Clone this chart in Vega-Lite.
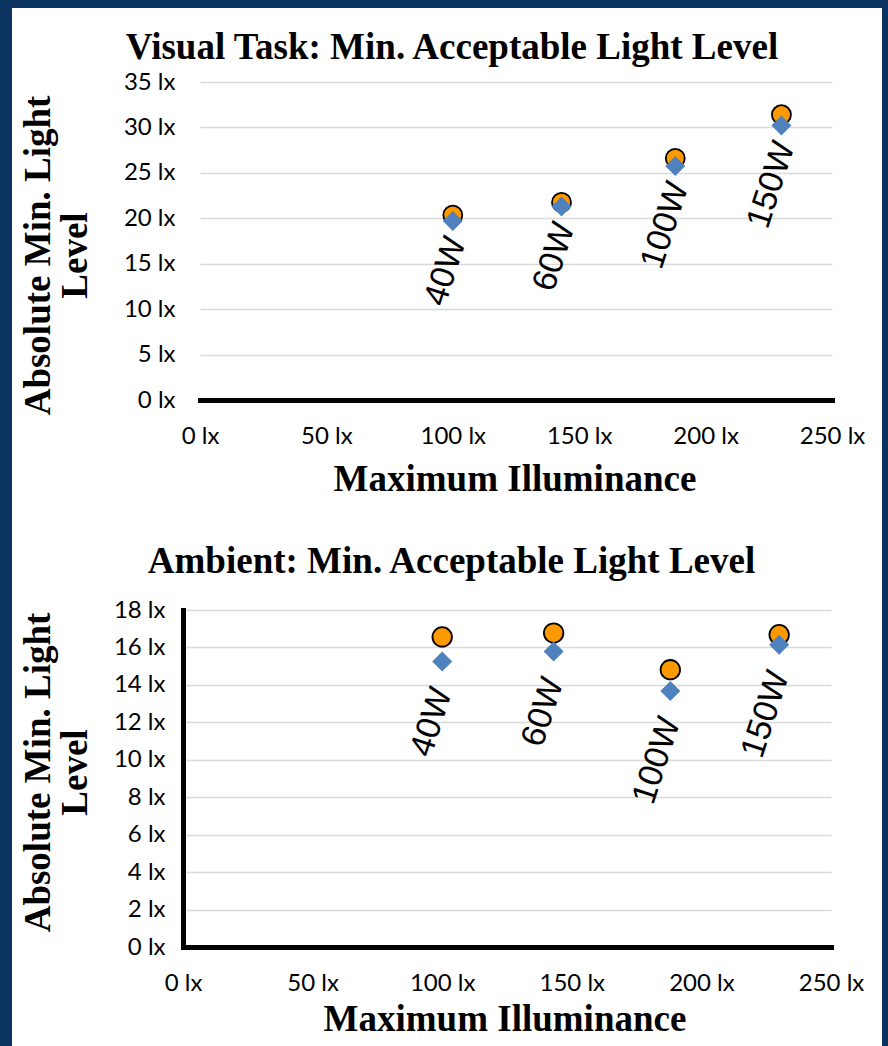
{
  "$schema": "https://vega.github.io/schema/vega-lite/v6.json",
  "padding": 0,
  "background": "white",
  "bounds": "flush",
  "spacing": 0,
  "config": {
    "view": {"stroke": null},
    "axis": {
      "labelFont": "Lato",
      "labelFontSize": 24,
      "labelColor": "#000000",
      "labelOverlap": false,
      "labelFlush": false,
      "titleFont": "Liberation Serif",
      "titleFontSize": 37,
      "titleFontWeight": "bold",
      "titleColor": "#000000",
      "ticks": false,
      "tickSize": 0,
      "gridColor": "#D9D9D9",
      "gridWidth": 1.3,
      "domainColor": "#000000",
      "domainWidth": 5,
      "domainCap": "square"
    },
    "title": {
      "font": "Liberation Serif",
      "fontSize": 37,
      "fontWeight": "bold",
      "color": "#000000",
      "anchor": "middle",
      "frame": "group",
      "baseline": "alphabetic"
    }
  },
  "datasets": {
    "visual": [
      {"lamp": "40W", "max_lx": 100, "level1": 20.35, "level2": 19.7},
      {"lamp": "60W", "max_lx": 143, "level1": 21.75, "level2": 21.3},
      {"lamp": "100W", "max_lx": 188, "level1": 26.6, "level2": 25.75},
      {"lamp": "150W", "max_lx": 230, "level1": 31.4, "level2": 30.2}
    ],
    "ambient": [
      {"lamp": "40W", "max_lx": 100, "level1": 16.56, "level2": 15.25},
      {"lamp": "60W", "max_lx": 143, "level1": 16.77, "level2": 15.79},
      {"lamp": "100W", "max_lx": 188, "level1": 14.81, "level2": 13.68},
      {"lamp": "150W", "max_lx": 230, "level1": 16.68, "level2": 16.15}
    ]
  },
  "vconcat": [
    {
      "width": 888,
      "height": 8,
      "data": {"values": []},
      "mark": "point",
      "view": {"fill": "#0B3461", "stroke": null}
    },
    {
      "bounds": "flush",
      "spacing": 0,
      "hconcat": [
        {
          "width": 12,
          "height": 1038,
          "data": {"values": []},
          "mark": "point",
          "view": {"fill": "#0B3461", "stroke": null}
        },
        {
          "width": 171,
          "height": 1038,
          "data": {"values": []},
          "mark": "point"
        },
        {
          "bounds": "flush",
          "spacing": 0,
          "vconcat": [
            {"width": 649, "height": 74, "data": {"values": []}, "mark": "point"},
            {
              "width": 649,
              "height": 318,
              "title": {"text": "Visual Task: Min. Acceptable Light Level", "offset": 3, "dx": -55.5},
              "data": {"name": "visual"},
              "encoding": {
                "x": {
                  "field": "max_lx",
                  "type": "quantitative",
                  "title": "Maximum Illuminance",
                  "scale": {"domain": [0, 250], "range": [17, 649], "nice": false},
                  "axis": {
                    "values": [0, 50, 100, 150, 200, 250],
                    "labelExpr": "datum.value + ' lx'",
                    "labelBaseline": "middle",
                    "labelPadding": 36,
                    "grid": false,
                    "titleX": 331.5,
                    "titleY": 90,
                    "titleBaseline": "alphabetic"
                  }
                }
              },
              "layer": [
                {
                  "data": {"values": [{}]},
                  "mark": {"type": "rule", "color": "#D9D9D9", "strokeWidth": 1.3},
                  "encoding": {"x": {"datum": 250}}
                },
                {
                  "data": {"values": [{}]},
                  "mark": {"type": "rule", "color": "#000000", "strokeWidth": 5},
                  "encoding": {"x": {"datum": 0}}
                },
                {
                  "mark": {"type": "point", "shape": "circle", "filled": true, "size": 360, "fill": "#FF9900", "stroke": "#000000", "strokeWidth": 1.8, "opacity": 1},
                  "encoding": {
                    "y": {
                      "field": "level1",
                      "type": "quantitative",
                      "title": ["Absolute Min. Light", "Level"],
                      "scale": {"domain": [0, 35], "nice": false},
                      "axis": {
                        "values": [0, 5, 10, 15, 20, 25, 30, 35],
                        "labelExpr": "datum.value + ' lx'",
                        "labelPadding": 8,
                        "domain": false,
                        "grid": true,
                        "titleX": -145,
                        "titleY": 173,
                        "titleAngle": -90,
                        "titleAlign": "center",
                        "titleBaseline": "middle",
                        "titleLineHeight": 37
                      }
                    }
                  }
                },
                {
                  "mark": {"type": "point", "shape": "diamond", "filled": true, "size": 400, "fill": "#4F81BD", "strokeWidth": 0, "opacity": 1},
                  "encoding": {
                    "y": {
                      "field": "level2",
                      "type": "quantitative",
                      "title": ["Absolute Min. Light", "Level"],
                      "scale": {"domain": [0, 35], "nice": false},
                      "axis": {
                        "values": [0, 5, 10, 15, 20, 25, 30, 35],
                        "labelExpr": "datum.value + ' lx'",
                        "labelPadding": 8,
                        "domain": false,
                        "grid": true,
                        "titleX": -145,
                        "titleY": 173,
                        "titleAngle": -90,
                        "titleAlign": "center",
                        "titleBaseline": "middle",
                        "titleLineHeight": 37
                      }
                    }
                  }
                },
                {
                  "mark": {"type": "text", "angle": 288, "align": "right", "baseline": "middle", "dx": -15, "dy": 9, "font": "Liberation Sans", "fontSize": 34, "color": "#000000"},
                  "encoding": {
                    "y": {
                      "field": "level2",
                      "type": "quantitative",
                      "title": ["Absolute Min. Light", "Level"],
                      "scale": {"domain": [0, 35], "nice": false},
                      "axis": {
                        "values": [0, 5, 10, 15, 20, 25, 30, 35],
                        "labelExpr": "datum.value + ' lx'",
                        "labelPadding": 8,
                        "domain": false,
                        "grid": true,
                        "titleX": -145,
                        "titleY": 173,
                        "titleAngle": -90,
                        "titleAlign": "center",
                        "titleBaseline": "middle",
                        "titleLineHeight": 37
                      }
                    },
                    "text": {"field": "lamp"}
                  }
                }
              ]
            },
            {"width": 649, "height": 210, "data": {"values": []}, "mark": "point"},
            {
              "width": 648,
              "height": 337,
              "title": {"text": "Ambient: Min. Acceptable Light Level", "offset": 17, "dx": -55.5},
              "data": {"name": "ambient"},
              "encoding": {
                "x": {
                  "field": "max_lx",
                  "type": "quantitative",
                  "title": "Maximum Illuminance",
                  "scale": {"domain": [0, 250], "nice": false},
                  "axis": {
                    "values": [0, 50, 100, 150, 200, 250],
                    "labelExpr": "datum.value + ' lx'",
                    "labelBaseline": "middle",
                    "labelPadding": 36,
                    "grid": false,
                    "titleX": 321.5,
                    "titleY": 83,
                    "titleBaseline": "alphabetic"
                  }
                }
              },
              "layer": [
                {
                  "data": {"values": [{}]},
                  "mark": {"type": "rule", "color": "#D9D9D9", "strokeWidth": 1.3},
                  "encoding": {"x": {"datum": 250}}
                },
                {
                  "mark": {"type": "point", "shape": "circle", "filled": true, "size": 380, "fill": "#FF9900", "stroke": "#000000", "strokeWidth": 1.8, "opacity": 1},
                  "encoding": {
                    "y": {
                      "field": "level1",
                      "type": "quantitative",
                      "title": ["Absolute Min. Light", "Level"],
                      "scale": {"domain": [0, 18], "nice": false},
                      "axis": {
                        "values": [0, 2, 4, 6, 8, 10, 12, 14, 16, 18],
                        "labelExpr": "datum.value + ' lx'",
                        "labelPadding": 18,
                        "domain": true,
                        "grid": true,
                        "titleX": -145,
                        "titleY": 162,
                        "titleAngle": -90,
                        "titleAlign": "center",
                        "titleBaseline": "middle",
                        "titleLineHeight": 37
                      }
                    }
                  }
                },
                {
                  "mark": {"type": "point", "shape": "diamond", "filled": true, "size": 400, "fill": "#4F81BD", "strokeWidth": 0, "opacity": 1},
                  "encoding": {
                    "y": {
                      "field": "level2",
                      "type": "quantitative",
                      "title": ["Absolute Min. Light", "Level"],
                      "scale": {"domain": [0, 18], "nice": false},
                      "axis": {
                        "values": [0, 2, 4, 6, 8, 10, 12, 14, 16, 18],
                        "labelExpr": "datum.value + ' lx'",
                        "labelPadding": 18,
                        "domain": true,
                        "grid": true,
                        "titleX": -145,
                        "titleY": 162,
                        "titleAngle": -90,
                        "titleAlign": "center",
                        "titleBaseline": "middle",
                        "titleLineHeight": 37
                      }
                    }
                  }
                },
                {
                  "mark": {"type": "text", "angle": 288, "align": "right", "baseline": "middle", "dx": -26, "dy": 9, "font": "Liberation Sans", "fontSize": 34, "color": "#000000"},
                  "encoding": {
                    "y": {
                      "field": "level2",
                      "type": "quantitative",
                      "title": ["Absolute Min. Light", "Level"],
                      "scale": {"domain": [0, 18], "nice": false},
                      "axis": {
                        "values": [0, 2, 4, 6, 8, 10, 12, 14, 16, 18],
                        "labelExpr": "datum.value + ' lx'",
                        "labelPadding": 18,
                        "domain": true,
                        "grid": true,
                        "titleX": -145,
                        "titleY": 162,
                        "titleAngle": -90,
                        "titleAlign": "center",
                        "titleBaseline": "middle",
                        "titleLineHeight": 37
                      }
                    },
                    "text": {"field": "lamp"}
                  }
                }
              ]
            }
          ]
        },
        {
          "width": 699,
          "height": 1038,
          "data": {"values": []},
          "mark": "point"
        },
        {
          "width": 6,
          "height": 1038,
          "data": {"values": []},
          "mark": "point",
          "view": {"fill": "#0B3461", "stroke": null}
        }
      ]
    }
  ]
}
